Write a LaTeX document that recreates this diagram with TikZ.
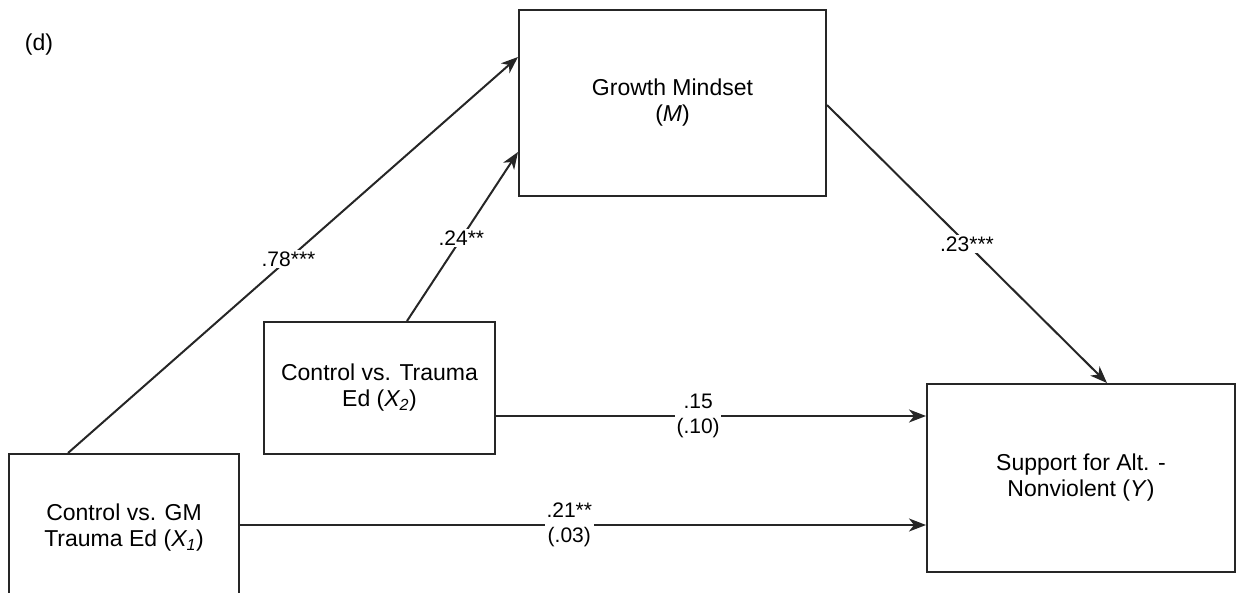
\documentclass[tikz,border=0pt]{standalone}
\usepackage{fontspec}
\setmainfont{Liberation Sans}
\usetikzlibrary{arrows.meta}
\definecolor{linecol}{HTML}{262626}
\begin{document}
\begin{tikzpicture}[x=1pt,y=-1pt,
  box/.style={draw=linecol, line width=2pt, align=center, inner sep=0pt,
    font=\fontsize{23}{26}\selectfont, text=black},
  effect/.style={draw=linecol, line width=2pt,
    -{Stealth[length=17pt,width=13pt,inset=5pt]}},
  coef/.style={fill=white, inner sep=1.5pt, align=center,
    font=\fontsize{21}{25}\selectfont, text=black}]
\useasboundingbox (0,0) rectangle (1236,593);
\clip (0,0) rectangle (1236,593);

% panel tag
\node[font=\fontsize{23}{26}\selectfont, inner sep=0pt] (tag) at (39,45) {(d)};

% variables
\node[box, minimum width=307pt, minimum height=186pt] (m) at (672.5,103)
  {Growth Mindset\\(\textit{M})};
\node[box, minimum width=231pt, minimum height=132pt] (x2) at (379.5,388)
  {Control vs. Trauma\\Ed (\textit{X\textsubscript{2}})};
\node[box, minimum width=230pt, minimum height=148pt] (x1) at (124,528)
  {Control vs. GM\\Trauma Ed (\textit{X\textsubscript{1}})};
\node[box, minimum width=308pt, minimum height=188pt] (y) at (1081,478)
  {Support for Alt. -\\Nonviolent (\textit{Y})};

% a paths
\draw[effect] ([xshift=-56pt]x1.north) -- node[coef, pos=.49] {.78***}
  ([yshift=46pt]m.west);
\draw[effect] ([xshift=27.5pt]x2.north) -- node[coef, pos=.49] {.24**}
  ([yshift=-49pt]m.west);
% b path
\draw[effect] ([yshift=-2pt]m.east) -- node[coef, pos=.5] {.23***}
  ([xshift=26pt]y.north);
% total (direct) effects
\draw[effect] ([yshift=-28pt]x2.east) -- node[coef, pos=.47] {.15\\(.10)}
  ([yshift=-28pt]x2.east -| y.west);
\draw[effect] ([yshift=3pt]x1.east) -- node[coef, pos=.48] {.21**\\(.03)}
  ([yshift=3pt]x1.east -| y.west);
\end{tikzpicture}
\end{document}
